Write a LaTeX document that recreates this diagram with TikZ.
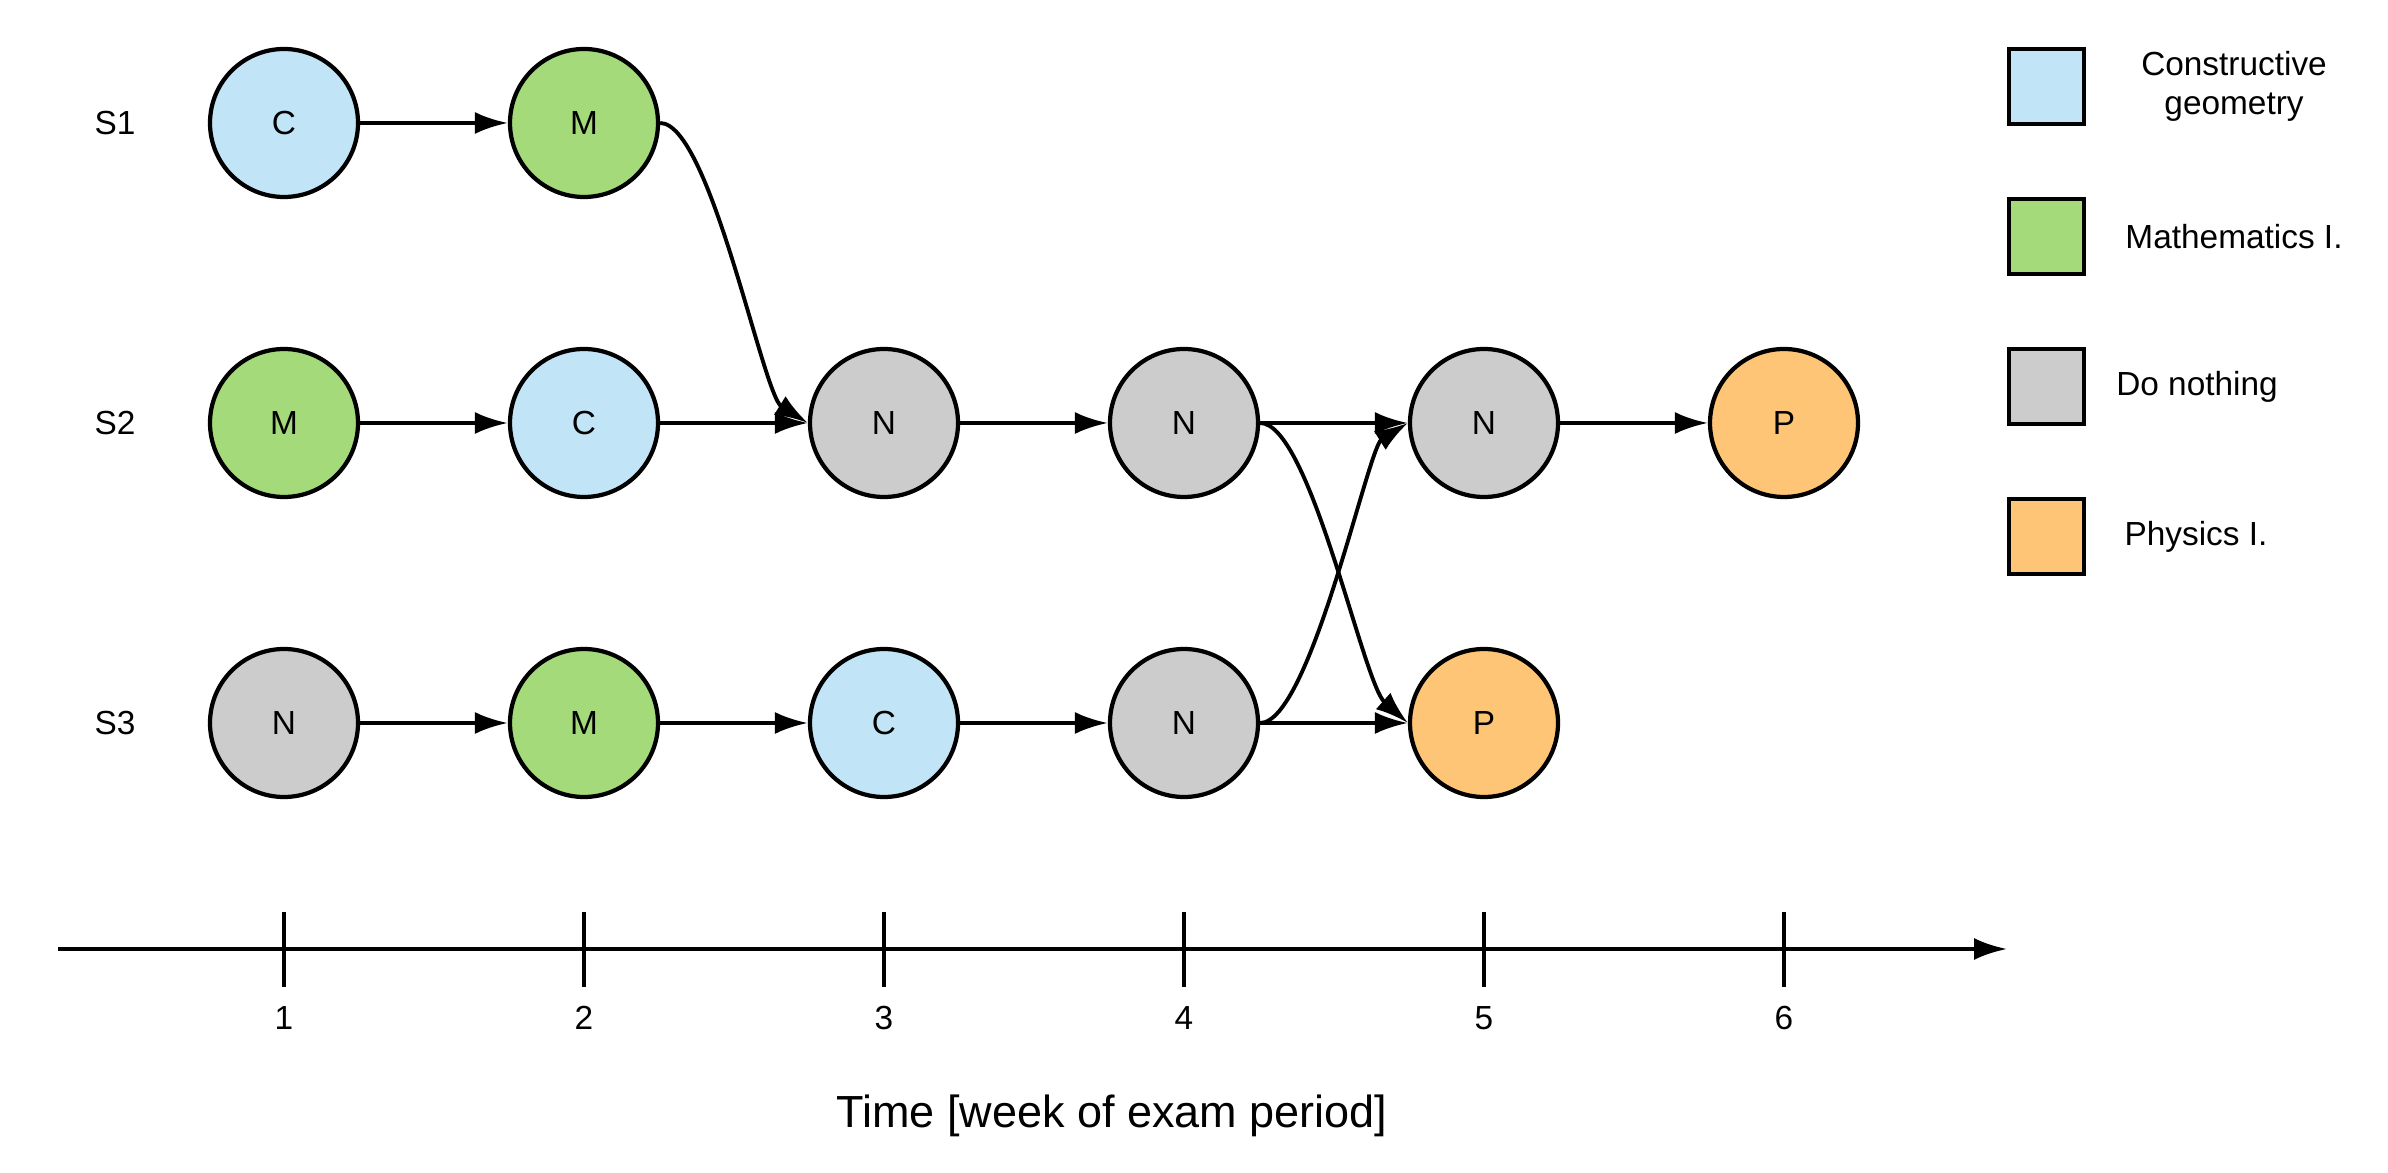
\documentclass[tikz,border=0pt]{standalone}
\usepackage{fontspec}
\setmainfont{Liberation Sans}
\usetikzlibrary{arrows.meta}
\definecolor{geomblue}{RGB}{193,228,246}
\definecolor{mathgreen}{RGB}{164,218,121}
\definecolor{idlegray}{RGB}{204,204,204}
\definecolor{physorange}{RGB}{255,197,118}
\begin{document}
\begin{tikzpicture}[>={Latex[length=3.3mm,width=2.2mm]},line width=1.1pt,
	course/.style={circle,draw,line width=1.2pt,minimum size=1.48cm,inner sep=0pt,font=\fontsize{9.5}{11}\selectfont},
	key/.style={draw,line width=1.2pt,minimum size=0.75cm,inner sep=0pt},
	txt/.style={font=\fontsize{9.5}{11}\selectfont,align=center}]
	\useasboundingbox (0,0) rectangle (23.88,11.72);
	\path
	(2.84,10.49)	node[course,fill=geomblue]	(a1) {C}
	+(-1.69,0)		node[txt]					(s1) {S1}
	+(3,0)			node[course,fill=mathgreen]	(a2) {M}
	(2.84,7.49)		node[course,fill=mathgreen]	(b1) {M}
	+(-1.69,0)		node[txt]					(s2) {S2}
	+(3,0)			node[course,fill=geomblue]	(b2) {C}
	+(6,0)			node[course,fill=idlegray]	(b3) {N}
	+(9,0)			node[course,fill=idlegray]	(b4) {N}
	+(12,0)			node[course,fill=idlegray]	(b5) {N}
	+(15,0)			node[course,fill=physorange] (b6) {P}
	(2.84,4.49)		node[course,fill=idlegray]	(c1) {N}
	+(-1.69,0)		node[txt]					(s3) {S3}
	+(3,0)			node[course,fill=mathgreen]	(c2) {M}
	+(6,0)			node[course,fill=geomblue]	(c3) {C}
	+(9,0)			node[course,fill=idlegray]	(c4) {N}
	+(12,0)			node[course,fill=physorange] (c5) {P};
	\draw[->] (a1)--(a2);
	\draw[->] (b1)--(b2);
	\draw[->] (b2)--(b3);
	\draw[->] (b3)--(b4);
	\draw[->] (b4)--(b5);
	\draw[->] (b5)--(b6);
	\draw[->] (c1)--(c2);
	\draw[->] (c2)--(c3);
	\draw[->] (c3)--(c4);
	\draw[->] (c4)--(c5);
	\draw[->] (a2.east) .. controls +(0.5,0) and +(-0.45,0.28) .. (b3.west);
	\draw[->] (b4.east) .. controls +(0.5,0) and +(-0.45,0.4) .. (c5.west);
	\draw[->] (c4.east) .. controls +(0.5,0) and +(-0.4,-0.25) .. (b5.west);
	
	% time axis
	\coordinate (t0) at (0.58,2.23);
	\coordinate (t1) at (20.07,2.23);
	\draw[->] (t0)--(t1);
	\foreach \i in {1,...,6}
	\draw ({2.84+3*(\i-1)},2.60) -- ++(0,-0.75) ({2.84+3*(\i-1)},1.54) node[txt] {\i};
	\node[anchor=base,font=\fontsize{12.8}{15}\selectfont] (title) at (11.12,0.45) {Time [week of exam period]};
	
	% legend
	\path
	(20.465,10.855)	node[key,fill=geomblue]		(k1) {}
	+(1.875,0)		node[txt]					(l1) {Constructive\\geometry}
	(20.465,9.355)	node[key,fill=mathgreen]	(k2) {}
	+(1.875,0)		node[txt]					(l2) {Mathematics I.}
	(20.465,7.855)	node[key,fill=idlegray]		(k3) {}
	+(1.505,0)		node[txt]					(l3) {Do nothing}
	(20.465,6.355)	node[key,fill=physorange]	(k4) {}
	+(1.495,0)		node[txt]					(l4) {Physics I.};
\end{tikzpicture}
\end{document}
